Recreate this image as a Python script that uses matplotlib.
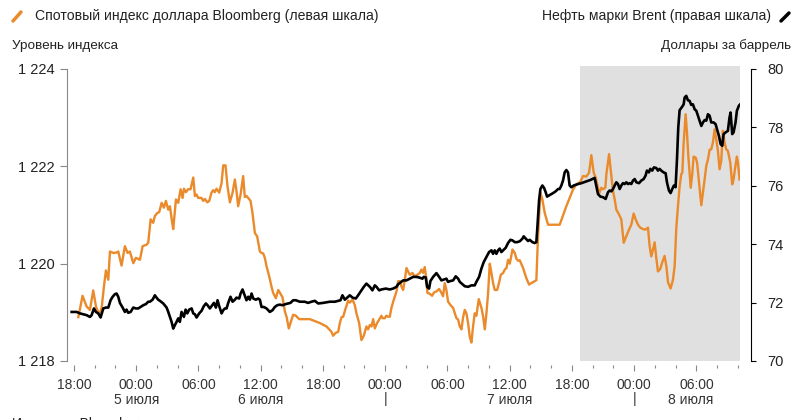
import matplotlib.pyplot as plt
from matplotlib.lines import Line2D
from matplotlib.ticker import FuncFormatter
from matplotlib.transforms import blended_transform_factory

plt.rcParams['font.family'] = ['Liberation Sans', 'DejaVu Sans']

# время в часах от 00:00 4 июля
usd_hours = [
    18.42, 18.83, 19.22, 19.54, 19.86, 20.12, 20.44, 20.67, 20.89, 21.08, 21.31, 21.47, 21.79, 22.11, 22.27,
    22.59, 22.91, 23.17, 23.39, 23.72, 23.97, 24.36, 24.62, 25.00, 25.16, 25.39, 25.64, 25.80, 26.03, 26.22,
    26.45, 26.67, 26.86, 27.09, 27.25, 27.47, 27.57, 27.83, 28.05, 28.28, 28.47, 28.60, 28.79, 29.01, 29.24,
    29.50, 29.66, 29.82, 29.98, 30.30, 30.46, 30.62, 30.85, 31.04, 31.26, 31.42, 31.58, 31.74, 32.00, 32.23,
    32.39, 32.61, 32.80, 33.03, 33.29, 33.51, 33.67, 33.83, 34.06, 34.31, 34.47, 34.63, 34.80, 35.02, 35.21,
    35.44, 35.66, 35.92, 36.08, 36.24, 36.40, 36.56, 36.82, 37.04, 37.20, 37.46, 37.69, 37.85, 38.10, 38.33,
    38.49, 38.71, 38.87, 39.13, 39.39, 39.71, 40.74, 41.70, 42.34, 42.82, 42.98, 43.24, 43.47, 43.63, 43.79,
    43.95, 44.20, 44.43, 44.59, 44.85, 45.07, 45.23, 45.49, 45.71, 45.94, 46.19, 46.35, 46.52, 46.68, 46.84,
    47.00, 47.22, 47.42, 47.64, 47.74, 47.96, 48.12, 48.28, 48.44, 48.60, 48.83, 49.09, 49.25, 49.41, 49.57,
    49.73, 49.89, 50.05, 50.21, 50.37, 50.63, 50.85, 51.08, 51.34, 51.49, 51.65, 51.81, 51.98, 52.07, 52.30,
    52.52, 52.71, 52.94, 53.20, 53.42, 53.58, 53.74, 53.90, 54.06, 54.29, 54.55, 54.71, 54.87, 55.03, 55.19,
    55.35, 55.51, 55.67, 55.83, 55.99, 56.15, 56.31, 56.47, 56.63, 56.79, 57.02, 57.28, 57.44, 57.60, 57.76,
    57.92, 58.08, 58.24, 58.40, 58.56, 58.79, 58.98, 59.14, 59.37, 59.53, 59.69, 59.85, 60.01, 60.27, 60.49,
    60.65, 60.81, 60.97, 61.29, 61.61, 61.87, 62.09, 62.57, 62.73, 62.96, 63.15, 63.38, 63.70, 64.82, 65.46,
    66.10, 66.42, 66.81, 67.07, 67.39, 67.65, 67.87, 68.10, 68.29, 68.51, 68.61, 68.84, 69.00, 69.22, 69.32,
    69.58, 69.73, 69.96, 70.12, 70.28, 70.54, 70.76, 70.99, 71.24, 71.50, 71.72, 71.95, 72.14, 72.37, 72.59,
    72.85, 73.10, 73.33, 73.49, 73.65, 73.81, 73.97, 74.13, 74.29, 74.51, 74.71, 74.93, 75.10, 75.26, 75.51,
    75.74, 75.90, 76.06, 76.22, 76.38, 76.54, 76.64, 76.77, 76.96, 77.09, 77.22, 77.45, 77.61, 77.73, 77.93,
    78.06, 78.22, 78.38, 78.47, 78.63, 78.79, 78.95, 79.11, 79.27, 79.43, 79.59, 79.75, 79.91, 80.07, 80.23,
    80.39, 80.55, 80.71, 80.87, 81.03, 81.26, 81.45, 81.58, 81.71, 81.90, 82.00, 82.16,
]
usd_index = [
    1218.90, 1219.34, 1219.12, 1219.05, 1219.45, 1219.12, 1218.95, 1219.09, 1219.53, 1219.86, 1219.67, 1220.25, 1220.22, 1220.23, 1220.25,
    1219.96, 1220.36, 1220.22, 1220.25, 1220.01, 1220.12, 1220.08, 1220.36, 1220.39, 1220.43, 1220.91, 1220.84, 1220.98, 1221.04, 1221.06,
    1221.25, 1221.15, 1221.29, 1221.11, 1221.18, 1220.84, 1220.71, 1221.32, 1221.25, 1221.53, 1221.35, 1221.54, 1221.47, 1221.53, 1221.53,
    1221.77, 1221.39, 1221.42, 1221.35, 1221.35, 1221.29, 1221.33, 1221.26, 1221.29, 1221.46, 1221.51, 1221.47, 1221.54, 1221.46, 1221.66,
    1222.02, 1222.02, 1221.59, 1221.26, 1221.46, 1221.73, 1221.49, 1221.18, 1221.42, 1221.80, 1221.37, 1221.39, 1221.35, 1221.29, 1221.04,
    1220.63, 1220.56, 1220.25, 1220.22, 1220.21, 1220.12, 1219.95, 1219.74, 1219.53, 1219.40, 1219.29, 1219.46, 1219.40, 1219.31, 1219.02,
    1218.91, 1218.67, 1218.78, 1218.95, 1218.93, 1218.86, 1218.86, 1218.78, 1218.71, 1218.60, 1218.52, 1218.58, 1218.60, 1218.78, 1218.90,
    1218.91, 1219.09, 1219.24, 1219.20, 1219.26, 1219.15, 1218.98, 1218.78, 1218.43, 1218.52, 1218.71, 1218.65, 1218.74, 1218.71, 1218.86,
    1218.67, 1218.78, 1218.85, 1218.93, 1218.88, 1218.88, 1218.93, 1218.91, 1218.91, 1219.09, 1219.26, 1219.43, 1219.64, 1219.64, 1219.53,
    1219.46, 1219.67, 1219.91, 1219.84, 1219.77, 1219.81, 1219.74, 1219.77, 1219.81, 1219.88, 1219.81, 1219.93, 1219.67, 1219.40, 1219.38,
    1219.34, 1219.41, 1219.43, 1219.48, 1219.40, 1219.33, 1219.60, 1219.46, 1219.22, 1219.15, 1219.09, 1218.98, 1218.88, 1218.85, 1218.71,
    1218.65, 1218.90, 1219.05, 1218.98, 1218.78, 1218.50, 1218.38, 1218.71, 1218.98, 1218.93, 1219.27, 1219.09, 1218.91, 1218.65, 1218.98,
    1219.40, 1220.00, 1219.81, 1219.60, 1219.46, 1219.46, 1219.61, 1219.77, 1219.81, 1219.88, 1219.91, 1220.08, 1220.00, 1220.29, 1220.22,
    1220.10, 1220.06, 1220.07, 1219.91, 1219.70, 1219.57, 1219.60, 1219.66, 1220.56, 1221.46, 1221.32, 1221.04, 1220.80, 1220.80, 1221.18,
    1221.52, 1221.63, 1221.68, 1221.80, 1221.79, 1221.87, 1222.23, 1221.87, 1221.77, 1221.56, 1221.44, 1221.56, 1221.53, 1221.56, 1221.84,
    1222.25, 1221.94, 1221.49, 1221.32, 1221.11, 1221.01, 1220.91, 1220.43, 1220.56, 1220.70, 1220.80, 1221.03, 1220.91, 1220.80, 1220.74,
    1220.71, 1220.70, 1220.74, 1220.36, 1220.15, 1220.29, 1220.44, 1220.12, 1219.84, 1219.89, 1220.03, 1220.16, 1219.95, 1219.62, 1219.49,
    1219.67, 1219.95, 1220.74, 1221.18, 1221.59, 1221.84, 1221.87, 1222.49, 1223.07, 1222.69, 1222.21, 1221.56, 1221.87, 1222.20, 1222.18,
    1222.08, 1221.73, 1221.39, 1221.20, 1221.46, 1221.73, 1222.01, 1222.14, 1222.34, 1222.35, 1222.49, 1222.76, 1222.56, 1222.32, 1221.94,
    1222.11, 1222.73, 1222.49, 1222.35, 1222.32, 1222.08, 1221.63, 1221.73, 1221.94, 1222.20, 1222.08, 1221.73,
]

brent_hours = [
    17.78, 18.26, 18.58, 18.90, 19.22, 19.54, 19.70, 19.93, 20.12, 20.34, 20.57, 20.83, 21.08, 21.31, 21.53,
    21.73, 21.95, 22.11, 22.27, 22.43, 22.69, 22.91, 23.07, 23.23, 23.46, 23.72, 23.97, 24.20, 24.42, 24.68,
    24.94, 25.16, 25.32, 25.58, 25.80, 25.96, 26.12, 26.29, 26.61, 26.93, 27.09, 27.25, 27.41, 27.57, 27.73,
    27.89, 28.05, 28.21, 28.37, 28.60, 28.76, 28.92, 29.11, 29.34, 29.50, 29.66, 29.82, 30.07, 30.30, 30.52,
    30.72, 30.88, 31.10, 31.26, 31.49, 31.68, 31.84, 32.00, 32.23, 32.39, 32.55, 32.71, 32.87, 33.09, 33.29,
    33.51, 33.67, 33.93, 34.06, 34.25, 34.41, 34.63, 34.80, 34.96, 35.12, 35.28, 35.53, 35.76, 35.92, 36.08,
    36.30, 36.56, 36.88, 37.14, 37.36, 37.59, 37.85, 38.10, 38.42, 38.65, 38.87, 39.13, 39.39, 39.77, 40.25,
    40.57, 40.89, 41.22, 41.54, 42.02, 42.66, 43.14, 43.69, 43.88, 44.11, 44.33, 44.59, 44.85, 45.17, 45.39,
    45.71, 45.94, 46.19, 46.52, 46.77, 47.00, 47.16, 47.42, 47.64, 48.06, 48.44, 48.76, 49.09, 49.25, 49.41,
    49.73, 50.05, 50.37, 50.69, 51.01, 51.27, 51.59, 51.72, 51.91, 52.04, 52.23, 52.36, 52.62, 52.94, 53.20,
    53.42, 53.65, 53.90, 54.06, 54.29, 54.55, 54.80, 55.03, 55.19, 55.45, 55.67, 55.99, 56.31, 56.63, 56.79,
    57.05, 57.27, 57.50, 57.76, 58.01, 58.24, 58.40, 58.56, 58.72, 58.88, 59.04, 59.20, 59.43, 59.62, 59.84,
    60.07, 60.27, 60.49, 60.72, 60.97, 61.23, 61.35, 61.55, 61.77, 61.93, 62.19, 62.41, 62.57, 62.67, 62.83,
    62.96, 63.15, 63.31, 63.47, 63.60, 63.79, 64.02, 64.18, 64.43, 64.66, 64.82, 64.98, 65.14, 65.30, 65.46,
    65.62, 65.78, 65.94, 66.17, 66.59, 66.91, 67.39, 67.78, 68.19, 68.51, 68.74, 68.99, 69.25, 69.48, 69.64,
    69.80, 69.96, 70.12, 70.28, 70.44, 70.60, 70.76, 70.92, 71.08, 71.24, 71.40, 71.56, 71.72, 71.89, 72.05,
    72.21, 72.46, 72.69, 72.91, 73.10, 73.23, 73.42, 73.55, 73.74, 73.90, 74.13, 74.29, 74.45, 74.61, 74.83,
    75.03, 75.16, 75.35, 75.51, 75.67, 75.83, 75.99, 76.12, 76.25, 76.38, 76.57, 76.77, 76.86, 77.02, 77.18,
    77.34, 77.50, 77.66, 77.83, 77.99, 78.15, 78.31, 78.47, 78.63, 78.79, 78.95, 79.11, 79.27, 79.43, 79.66,
    79.85, 79.98, 80.17, 80.33, 80.49, 80.62, 80.81, 81.03, 81.19, 81.29, 81.45, 81.58, 81.77, 81.90, 82.09,
    82.22,
]
brent_price = [
    71.68, 71.68, 71.63, 71.60, 71.57, 71.51, 71.57, 71.80, 71.68, 71.63, 71.49, 71.80, 71.83, 71.83, 72.08,
    72.20, 72.29, 72.31, 72.20, 71.99, 71.83, 71.68, 71.76, 71.65, 71.68, 71.83, 71.80, 71.80, 71.85, 71.91,
    71.95, 72.03, 72.03, 72.10, 72.25, 72.17, 72.10, 72.06, 71.97, 71.83, 71.68, 71.51, 71.34, 71.11, 71.23,
    71.34, 71.46, 71.34, 71.68, 71.51, 71.76, 71.63, 71.76, 71.80, 71.63, 71.60, 71.49, 71.63, 71.72, 71.88,
    71.97, 71.91, 71.80, 71.88, 71.99, 71.83, 72.08, 71.88, 71.63, 71.74, 71.80, 71.80, 71.99, 72.20, 72.03,
    72.10, 72.17, 72.14, 72.31, 72.45, 72.29, 72.08, 72.20, 72.10, 72.31, 72.14, 72.10, 72.14, 72.10, 71.85,
    71.85, 71.80, 71.68, 71.74, 71.85, 71.91, 71.93, 71.91, 71.95, 71.97, 71.99, 72.08, 72.08, 72.03, 72.03,
    71.99, 72.03, 72.06, 71.97, 71.99, 72.03, 72.03, 72.08, 72.25, 72.10, 72.17, 72.25, 72.17, 72.14, 72.25,
    72.42, 72.54, 72.65, 72.54, 72.42, 72.59, 72.54, 72.42, 72.45, 72.48, 72.45, 72.48, 72.54, 72.63, 72.67,
    72.76, 72.76, 72.82, 72.88, 72.88, 72.86, 72.82, 72.88, 72.86, 72.54, 72.48, 72.74, 72.88, 73.01, 72.88,
    72.76, 72.79, 72.82, 72.71, 72.74, 72.76, 72.90, 72.82, 72.71, 72.63, 72.56, 72.54, 72.59, 72.59, 72.71,
    72.88, 73.16, 73.39, 73.56, 73.73, 73.79, 73.67, 73.79, 73.67, 73.79, 73.85, 73.73, 73.81, 73.88, 74.04,
    74.15, 74.13, 74.07, 74.07, 74.10, 74.19, 74.27, 74.19, 74.11, 74.15, 74.07, 74.04, 74.07, 74.58, 75.49,
    75.89, 76.01, 75.93, 75.78, 75.63, 75.67, 75.72, 75.75, 75.81, 75.89, 75.89, 76.01, 76.18, 76.46, 76.54,
    76.46, 76.01, 75.95, 76.01, 76.06, 76.09, 76.15, 76.20, 76.27, 75.72, 75.63, 75.61, 75.55, 75.78, 75.84,
    75.81, 75.89, 76.01, 76.12, 76.06, 75.89, 76.01, 76.09, 76.06, 76.12, 76.06, 76.09, 76.06, 76.18, 76.23,
    76.12, 76.09, 76.18, 76.23, 76.35, 76.52, 76.46, 76.58, 76.52, 76.63, 76.61, 76.52, 76.58, 76.52, 76.46,
    76.43, 76.12, 75.84, 75.75, 75.89, 76.01, 75.95, 76.86, 78.00, 78.59, 78.68, 78.79, 79.02, 79.08, 78.93,
    78.91, 78.77, 78.79, 78.62, 78.57, 78.40, 78.23, 78.05, 78.17, 78.25, 78.23, 78.45, 78.40, 78.17, 78.17,
    78.11, 77.94, 77.71, 77.43, 77.37, 77.77, 77.83, 77.88, 78.34, 78.51, 77.77, 77.83, 78.17, 78.57, 78.74,
    78.79,
]

tick_hours = [18, 24, 30, 36, 42, 48, 54, 60, 66, 72, 78]
tick_labels = ["18:00", "00:00", "06:00", "12:00", "18:00", "00:00", "06:00", "12:00", "18:00", "00:00", "06:00"]
day_hours = [24, 36, 60, 77.4]
day_labels = ["5 июля", "6 июля", "7 июля", "8 июля"]
day_breaks = [48, 72]
shade_span = (66.75, 82.2)

ORANGE = "#EA8A2A"

fig = plt.figure(figsize=(8, 4.2), dpi=100)
ax = fig.add_axes([67 / 800, 1 - 361 / 420, 673 / 800, 292 / 420])
ax2 = ax.twinx()

ax.axvspan(*shade_span, ymax=1.01, color="#e0e0e0", lw=0, zorder=0, clip_on=False)
ax.plot(usd_hours, usd_index, color=ORANGE, lw=1.7, zorder=2)
ax2.plot(brent_hours, brent_price, color="black", lw=1.9, zorder=3)

ax.set_xlim(17.33, 82.2)
ax.set_ylim(1218, 1224)
ax2.set_ylim(70, 80)

for s in ["top", "right"]:
    ax.spines[s].set_visible(False)
for s in ["top", "left", "bottom"]:
    ax2.spines[s].set_visible(False)
ax.spines["bottom"].set_position(("outward", 3))
ax.spines["bottom"].set_visible(False)
ax.spines["left"].set_color("#888888")
ax2.spines["right"].set_position(("outward", 8))
ax2.spines["right"].set_color("black")

ax.set_xticks(tick_hours)
ax.set_xticklabels(tick_labels)
ax.set_xticks(range(18, 83, 2), minor=True)
ax.tick_params(axis="x", which="major", length=4, width=0.8, color="#888888",
               labelsize=10, labelcolor="#333333", pad=5)
ax.tick_params(axis="x", which="minor", length=2.5, width=0.8, color="#888888")

ax.set_yticks([1218, 1220, 1222, 1224])
ax.yaxis.set_major_formatter(FuncFormatter(lambda v, p: f"{v:,.0f}".replace(",", " ")))
ax.tick_params(axis="y", length=5, width=0.8, color="#888888", labelsize=10.5,
               labelcolor="#222222", pad=4)
ax2.set_yticks([70, 72, 74, 76, 78, 80])
ax2.tick_params(axis="y", length=3.5, width=0.8, color="black", labelsize=10.5,
                labelcolor="#222222", pad=8)

trans = blended_transform_factory(ax.transData, fig.transFigure)
for h, lab in zip(day_hours, day_labels):
    ax.text(h, 1 - 400 / 420, lab, transform=trans, ha="center", va="center",
            fontsize=10, color="#333333")
for h in day_breaks:
    ax.text(h, 1 - 399 / 420, "|", transform=trans, ha="center", va="center",
            fontsize=10, color="#333333")

# легенда и подписи осей
fig.text(35 / 800, 1 - 16 / 420, "Спотовый индекс доллара Bloomberg (левая шкала)",
         va="center", fontsize=10.1, color="#222222")
fig.add_artist(Line2D([13 / 800, 21 / 800], [1 - 21 / 420, 1 - 12 / 420], color=ORANGE,
                      lw=2.5, solid_capstyle="round", transform=fig.transFigure))
fig.text(771 / 800, 1 - 16 / 420, "Нефть марки Brent (правая шкала)",
         ha="right", va="center", fontsize=10.1, color="#222222")
fig.add_artist(Line2D([781 / 800, 789 / 800], [1 - 21 / 420, 1 - 13 / 420], color="black",
                      lw=2.5, solid_capstyle="round", transform=fig.transFigure))
fig.text(12 / 800, 1 - 46 / 420, "Уровень индекса", va="center", fontsize=9.7, color="#222222")
fig.text(791 / 800, 1 - 46 / 420, "Доллары за баррель", ha="right", va="center",
         fontsize=9.7, color="#222222")
fig.text(12 / 800, 1 - 417 / 420, "Источник: Bloomberg", va="top", fontsize=10, color="#222222")

fig.savefig("out.png", dpi=100)
